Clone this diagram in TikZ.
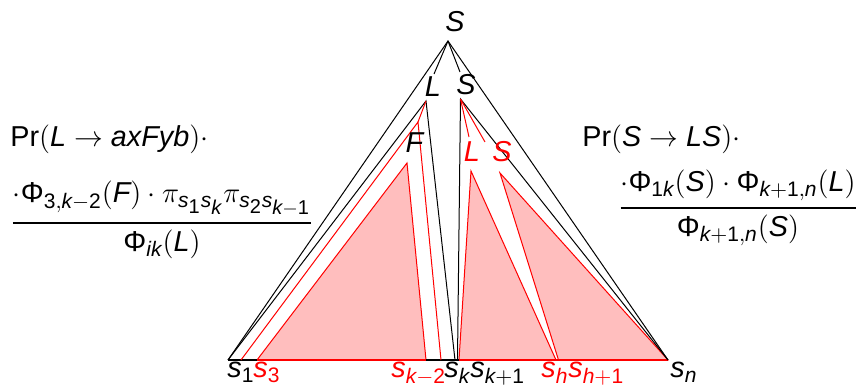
\documentclass[tikz,border=0pt]{standalone}
\usepackage{amsmath}
\usepackage{fontspec}
\setmainfont{Liberation Sans}
\DeclareMathSizes{14.4}{14.4}{10.5}{10}
\newcommand{\mi}[1]{\textit{#1}}
\newcommand{\mr}[1]{\textup{#1}}
\definecolor{pinkf}{RGB}{255,190,190}
\definecolor{redl}{RGB}{255,0,0}
\begin{document}
\begin{tikzpicture}[x=0.5pt,y=-0.5pt,
  font=\fontsize{14.4}{17}\selectfont,
  blk/.style={draw=black,line width=0.5pt},
  rl/.style={draw=redl,line width=0.5pt},
  tri/.style={fill=pinkf,draw=redl,line width=0.5pt,line join=miter},
  lbl/.style={inner sep=0pt},
  leaf/.style={inner sep=0pt,anchor=base west}]
\useasboundingbox (0,0) rectangle (859,385);
% key points
\coordinate (A) at (448,41);
\coordinate (Lv) at (426,101);
\coordinate (Sv) at (460.5,99);
\coordinate (P) at (418,122);
\coordinate (s1) at (228,360);
\coordinate (s2) at (241,360);
\coordinate (s3) at (257,360);
\coordinate (skm2) at (426,360);
\coordinate (skm1) at (441,360);
\coordinate (sk) at (455,360);
\coordinate (skb) at (457.5,360);
\coordinate (sk1) at (459,360);
\coordinate (sh) at (556,360);
\coordinate (sh1) at (558.5,360);
\coordinate (sn) at (668,360);
\coordinate (Fv) at (407,163);
\coordinate (Lrv) at (471,171);
\coordinate (Srv) at (500,173);
\coordinate (eL) at (434,74);
\coordinate (eS) at (460,72);
\coordinate (eRL) at (469,137);
\coordinate (eRS) at (485,142);
% pink subtrees
\draw[tri] (Fv) -- (s3) -- (skm2) -- cycle;
\draw[tri] (Lrv) -- (sk1) -- (sh) -- cycle;
\draw[tri] (Srv) -- (sh1) -- (sn) -- cycle;
% baseline
\draw[line width=1pt] (s1) -- (s3);
\draw[line width=1pt] (skm2) -- (sk1);
\draw[redl,line width=1pt] (s3) -- (skm2);
\draw[redl,line width=1pt] (sk1) -- (sn);
% outer triangle
\draw[blk] (s1) -- (A) -- (sn);
\draw[blk] (A) -- (eL);
\draw[blk] (A) -- (eS);
% L subtree
\draw[blk] (s1) -- (Lv) -- (sk);
\draw[rl] (Lv) -- (P);
\draw[rl] (s2) -- (P) -- (skm1);
% S subtree
\draw[blk] (skb) -- (Sv) -- (sn);
\draw[rl] (Sv) -- (eRL);
\draw[rl] (Sv) -- (eRS);
% labels
\node[lbl] (Stop) at (455,22) {\mi{S}};
\node[lbl] (Lk) at (433,87) {\mi{L}};
\node[lbl] (Sk) at (466,85) {\mi{S}};
\node[lbl] (Fk) at (415,143) {\mi{F}};
\node[lbl,text=redl] (rL) at (472,152) {\mi{L}};
\node[lbl,text=redl] (rS) at (502,152) {\mi{S}};
% leaves
\node[leaf] (l1) at (227,378) {$\mi{s}_{\mr{1}}$};
\node[leaf,text=redl] (l3) at (253,378) {$\mi{s}_{\mr{3}}$};
\node[leaf,text=redl] (lkm2) at (391,378) {$\mi{s}_{\mi{k}-\mr{2}}$};
\node[leaf] (lk) at (444,378) {$\mi{s}_{\mi{k}}$};
\node[leaf] (lk1) at (470,378) {$\mi{s}_{\mi{k}+\mr{1}}$};
\node[leaf,text=redl] (lh) at (541,378) {$\mi{s}_{\mi{h}}$};
\node[leaf,text=redl] (lh1) at (568,378) {$\mi{s}_{\mi{h}+\mr{1}}$};
\node[leaf] (ln) at (670,378) {$\mi{s}_{\mi{n}}$};
% formulas
\node[inner sep=0pt,anchor=base west] (fl1) at (10,147)
  {$\mr{Pr}(\mi{L}\to\mi{axFyb})\cdot$};
\node[inner sep=0pt,anchor=base] (fl2) at (162,230)
  {$\genfrac{}{}{1pt}{0}{\cdot\mr{Φ}_{\mr{3},\mi{k}-\mr{2}}(\mi{F})\cdot\pi_{\mi{s}_{\mr{1}}\mi{s}_{\mi{k}}}\pi_{\mi{s}_{\mr{2}}\mi{s}_{\mi{k}-\mr{1}}}}{\mr{Φ}_{\mi{ik}}(\mi{L})}$};
\node[inner sep=0pt,anchor=base west] (fr1) at (582,147)
  {$\mr{Pr}(\mi{S}\to\mi{LS})\cdot$};
\node[inner sep=0pt,anchor=base] (fr2) at (738,215)
  {$\genfrac{}{}{1pt}{0}{\cdot\mr{Φ}_{\mr{1}\mi{k}}(\mi{S})\cdot\mr{Φ}_{\mi{k}+\mr{1},\mi{n}}(\mi{L})}{\mr{Φ}_{\mi{k}+\mr{1},\mi{n}}(\mi{S})}$};
\end{tikzpicture}
\end{document}
